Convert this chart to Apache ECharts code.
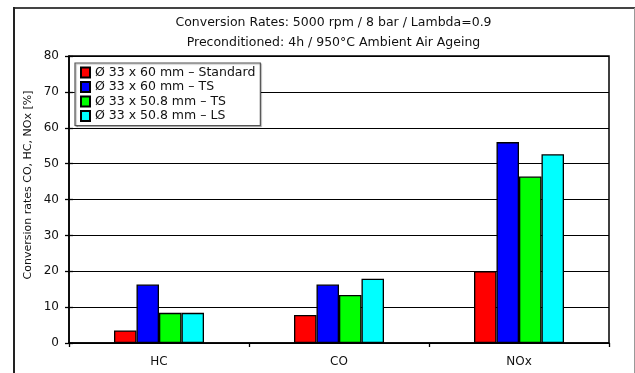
<!DOCTYPE html>
<html>
<head>
<meta charset="utf-8">
<script src="https://cdn.jsdelivr.net/npm/echarts@6/dist/echarts.min.js"></script>
<style>
html,body{margin:0;padding:0;background:#fff;}
#c{width:635px;height:373px;}
</style>
</head>
<body>
<div id="c"></div>
<script>
const categories = ['HC', 'CO', 'NOx'];
const seriesNames = ['Ø 33 x 60 mm – Standard', 'Ø 33 x 60 mm – TS', 'Ø 33 x 50.8 mm – TS', 'Ø 33 x 50.8 mm – LS'];
const standard60 = [3.5, 7.8, 20.0];
const ts60 = [16.3, 16.3, 56.0];
const ts508 = [8.4, 13.4, 46.4];
const ls508 = [8.4, 17.9, 52.6];
const seriesValues = [standard60, ts60, ts508, ls508];
const seriesColors = ['#ff0000', '#0000ff', '#00ff00', '#00ffff'];
const titleLines = ['Conversion Rates: 5000 rpm / 8 bar / Lambda=0.9', 'Preconditioned: 4h / 950°C Ambient Air Ageing'];
const yAxisTitle = 'Conversion rates CO, HC, NOx [%]';

const FONT = '"DejaVu Sans", Verdana, sans-serif';
const chart = echarts.init(document.getElementById('c'), null, {renderer: 'canvas'});

const series = seriesNames.map((n, i) => ({
  name: n,
  type: 'bar',
  data: seriesValues[i],
  barWidth: 22.5,
  barGap: '0%',
  itemStyle: {color: seriesColors[i], borderColor: '#000', borderWidth: 1.3},
  emphasis: {disabled: true}
}));

chart.setOption({
  animation: false,
  backgroundColor: '#fff',
  grid: {left: 69, right: 26, top: 56, bottom: 30, show: true, borderColor: '#000', borderWidth: 1.5, backgroundColor: 'transparent'},
  legend: {
    orient: 'vertical', left: 75, top: 63,
    itemWidth: 9, itemHeight: 10, itemGap: 1.5,
    padding: [3, 5, 3, 5],
    backgroundColor: '#fff', borderColor: '#555', borderWidth: 1.2,
    shadowColor: 'rgba(0,0,0,0.3)', shadowOffsetX: 1, shadowOffsetY: 1, shadowBlur: 1,
    icon: 'rect',
    textStyle: {fontFamily: FONT, fontSize: 12.5, color: '#111', padding: [0, 0, 0, 0]},
    data: seriesNames
  },
  xAxis: {
    type: 'category', data: categories,
    axisLine: {lineStyle: {color: '#000', width: 1.5}},
    axisTick: {show: true, inside: false, length: 4, alignWithLabel: false, lineStyle: {color: '#000', width: 1.3}},
    axisLabel: {fontFamily: FONT, fontSize: 12, color: '#111', margin: 13},
    splitLine: {show: false}
  },
  yAxis: [{
    type: 'value', min: 0, max: 80, interval: 10,
    axisLine: {show: true, lineStyle: {color: '#000', width: 1.5}},
    axisTick: {show: true, inside: false, length: 4, lineStyle: {color: '#000', width: 1.3}},
    axisLabel: {fontFamily: FONT, fontSize: 12, color: '#111', margin: 10},
    splitLine: {show: true, lineStyle: {color: '#000', width: 1.2}}
  }, {
    type: 'value', min: 0, max: 80, interval: 10, position: 'left',
    axisLine: {show: false},
    axisTick: {show: true, inside: true, length: 4, lineStyle: {color: '#000', width: 1.3}},
    axisLabel: {show: false},
    splitLine: {show: false}
  }],
  series: series,
  graphic: [
    {type: 'line', shape: {x1: 14, y1: 8, x2: 635, y2: 8}, style: {stroke: '#444', lineWidth: 2}, z: 10},
    {type: 'line', shape: {x1: 14, y1: 7, x2: 14, y2: 373}, style: {stroke: '#222', lineWidth: 2}, z: 10},
    {type: 'line', shape: {x1: 634.5, y1: 8, x2: 634.5, y2: 373}, style: {stroke: '#999', lineWidth: 1}, z: 10},
    {type: 'text', x: 333.5, y: 22.5, style: {text: titleLines[0], font: '12.5px ' + FONT, fill: '#111', textAlign: 'center', textVerticalAlign: 'middle'}},
    {type: 'text', x: 333.5, y: 42.5, style: {text: titleLines[1], font: '12.5px ' + FONT, fill: '#111', textAlign: 'center', textVerticalAlign: 'middle'}},
    {type: 'text', x: 28, y: 185, rotation: Math.PI / 2, style: {text: yAxisTitle, font: '11px ' + FONT, fill: '#111', textAlign: 'center', textVerticalAlign: 'middle'}}
  ]
});
</script>
</body>
</html>
